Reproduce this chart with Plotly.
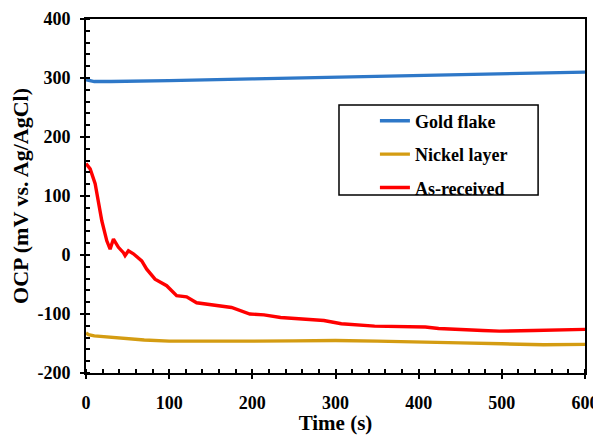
import plotly.graph_objects as go

# ---- data ----
time_gold = [0, 5, 10, 30, 60, 100, 200, 300, 400, 500, 600]
ocp_gold = [297, 295, 294, 294, 294.5, 295.5, 298.5, 301.5, 304.5, 307.5, 310]

time_nickel = [0, 3, 10, 25, 40, 70, 100, 150, 200, 250, 300, 350, 400, 450, 500, 550, 600]
ocp_nickel = [-132, -135, -137, -139, -141, -144, -146, -146.5, -146, -145.5, -145, -146, -148, -149, -150.5, -152, -151.5]

time_red = [0, 5, 11, 15, 19, 25, 29, 33, 39, 45, 47, 51, 57, 67, 73, 83, 97, 109, 121, 133,
            153, 175, 197, 214, 234, 254, 286, 307, 347, 408, 424, 477, 497, 538, 600]
ocp_red = [155, 146, 121, 92, 58, 24, 10, 27, 13, 4, -1, 7, 2, -10, -24, -41, -52, -69, -71, -81,
           -85, -89, -100, -101.5, -106, -108, -111, -116.5, -120.5, -122, -124.5, -128, -129, -128, -126]

series_names = ["Gold flake", "Nickel layer", "As-received"]
series_colors = ["#2E78C8", "#D49C12", "#FF0000"]

x_ticks = [0, 100, 200, 300, 400, 500, 600]
y_ticks = [-200, -100, 0, 100, 200, 300, 400]
y_tick_labels = ["-200", "-100", "0", "100", "200", "300", "400"]

FONT = "Liberation Serif"

fig = go.Figure()
for name, color, xs, ys in zip(series_names, series_colors,
                               [time_gold, time_nickel, time_red],
                               [ocp_gold, ocp_nickel, ocp_red]):
    fig.add_trace(go.Scatter(x=xs, y=ys, mode="lines", name=name, legendgroup=name,
                             line=dict(color=color, width=3.4)))

axis_common = dict(showgrid=False, zeroline=False, linecolor="black", linewidth=2,
                   tickcolor="black", tickwidth=1.5, ticklen=4, automargin=False,
                   tickfont=dict(family=FONT, size=18, color="black", weight="bold"))

# the page body has an 8px margin, so the figure is 8px smaller than the window
fig.update_layout(
    width=593, height=427,
    margin=dict(l=78, r=16, t=11, b=62),
    paper_bgcolor="white", plot_bgcolor="white",
    font=dict(family=FONT, color="black"),
    xaxis=dict(range=[0, 600], tickvals=x_ticks, ticks="outside", showline=True, mirror=True,
               ticklabelstandoff=8,
               minor=dict(dtick=20, ticks="inside", ticklen=4, tickcolor="black", tickwidth=1.5),
               title=dict(text="<b>Time (s)</b>", font=dict(family=FONT, size=21), standoff=2),
               **axis_common),
    yaxis=dict(range=[-200, 400], tickvals=y_ticks, ticktext=y_tick_labels, ticks="outside",
               showline=True, mirror=True, ticklabelstandoff=6,
               minor=dict(dtick=20, ticks="inside", ticklen=4, tickcolor="black", tickwidth=1.5),
               title=dict(text="<b>OCP (mV vs. Ag/AgCl)</b>", font=dict(family=FONT, size=22), standoff=3),
               **axis_common),
    xaxis2=dict(range=[0, 600], tickvals=x_ticks, ticks="inside", overlaying="x", anchor="y",
                showticklabels=False, showline=False, showgrid=False, zeroline=False,
                tickcolor="black", tickwidth=1.5, ticklen=4),
    yaxis2=dict(range=[-200, 400], tickvals=y_ticks, ticks="inside", overlaying="y", anchor="x",
                showticklabels=False, showline=False, showgrid=False, zeroline=False,
                tickcolor="black", tickwidth=1.5, ticklen=4),
    legend=dict(x=0.579, y=0.764, xanchor="left", yanchor="top", bgcolor="rgba(0,0,0,0)",
                borderwidth=0, tracegroupgap=7, itemwidth=30,
                font=dict(family=FONT, size=18, color="black", weight="bold")),
    showlegend=True,
    shapes=[dict(type="rect", xref="paper", yref="paper", x0=0.507, x1=0.906, y0=0.503, y1=0.757,
                 line=dict(color="black", width=1.5), fillcolor="rgba(0,0,0,0)")],
)

fig.write_html("out.html")
